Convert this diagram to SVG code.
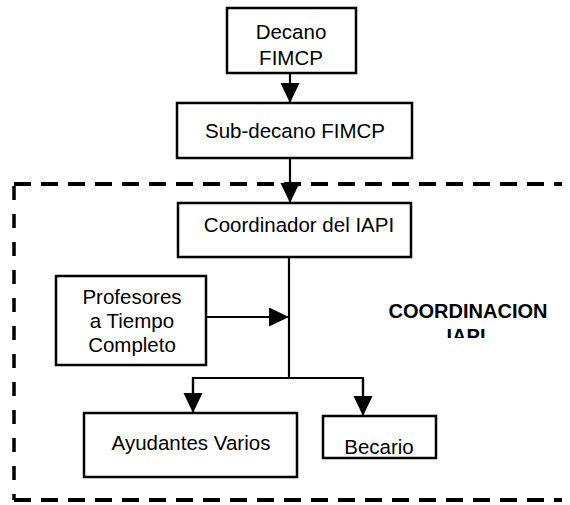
<svg xmlns="http://www.w3.org/2000/svg" width="570" height="505" viewBox="0 0 570 505">
<style>
.box{fill:#fff;stroke:#000;stroke-width:2.5}
.t{font-family:"Liberation Sans",Arial,sans-serif;font-size:20.5px;fill:#000;text-anchor:middle}
.b{font-family:"Liberation Sans",Arial,sans-serif;font-size:20px;font-weight:bold;fill:#000;text-anchor:middle}
.ln{stroke:#000;stroke-width:2.2;fill:none}
.dash{stroke:#000;stroke-width:4;fill:none;stroke-dasharray:17 10}
.dashv{stroke:#000;stroke-width:3.5;fill:none;stroke-dasharray:14 14}
</style>
<defs>
<marker id="ah" markerUnits="userSpaceOnUse" markerWidth="20" markerHeight="20" refX="20" refY="9.5" orient="auto">
<path d="M0,0 L20,9.5 L0,19 Z" fill="#000"/>
</marker>
<clipPath id="clipIapi"><rect x="380" y="300" width="180" height="38"/></clipPath>
</defs>
<g id="frame">
<line class="dash" x1="14" y1="184" x2="562" y2="184"/>
<line class="dashv" x1="14" y1="186" x2="14" y2="500"/>
<line class="dash" x1="14" y1="500" x2="562" y2="500"/>
</g>
<g id="connectors">
<line class="ln" x1="290" y1="73" x2="290" y2="103" marker-end="url(#ah)"/>
<line class="ln" x1="290" y1="158" x2="290" y2="203" marker-end="url(#ah)"/>
<line class="ln" x1="289" y1="257" x2="289" y2="379"/>
<line class="ln" x1="206" y1="317" x2="289" y2="317" marker-end="url(#ah)"/>
<polyline class="ln" points="193,395 193,378 363,378 363,395"/>
<line class="ln" x1="193" y1="378" x2="193" y2="413" marker-end="url(#ah)"/>
<line class="ln" x1="363" y1="378" x2="363" y2="416" marker-end="url(#ah)"/>
</g>
<g id="decano">
<rect class="box" x="227" y="8" width="129" height="65"/>
<text class="t" x="291" y="39">Decano</text>
<text class="t" x="291" y="65">FIMCP</text>
</g>
<g id="subdecano">
<rect class="box" x="177" y="103" width="235" height="55"/>
<text class="t" x="295" y="138">Sub-decano FIMCP</text>
</g>
<g id="coordinador">
<rect class="box" x="178" y="203" width="233" height="54"/>
<text class="t" x="299" y="232">Coordinador del IAPI</text>
</g>
<g id="profesores">
<rect class="box" x="56" y="276" width="150" height="89"/>
<text class="t" x="132" y="304">Profesores</text>
<text class="t" x="132" y="328">a Tiempo</text>
<text class="t" x="132" y="352">Completo</text>
</g>
<g id="coordinacion">
<text class="b" x="468" y="318">COORDINACION</text>
<text class="b" x="466" y="343" clip-path="url(#clipIapi)">IAPI</text>
</g>
<g id="ayudantes">
<rect class="box" x="84" y="413" width="213" height="64"/>
<text class="t" x="191" y="450">Ayudantes Varios</text>
</g>
<g id="becario">
<rect class="box" x="323" y="416" width="113" height="42"/>
<text class="t" x="379" y="454">Becario</text>
</g>
</svg>
